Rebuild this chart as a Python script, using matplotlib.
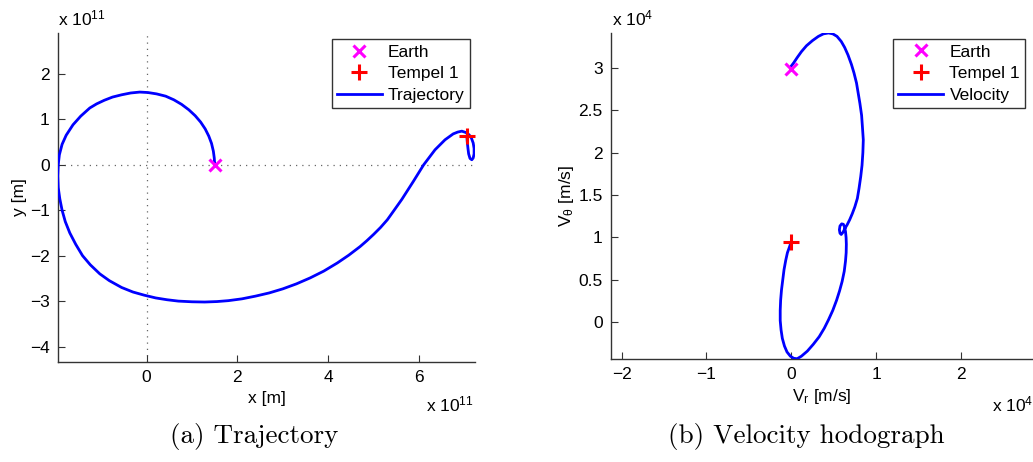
import matplotlib
matplotlib.use("Agg")
import matplotlib.pyplot as plt

# ---------------- data ----------------
# Trajectory, units of 1e11 m
traj_x = [1.50, 1.49, 1.47, 1.43, 1.37, 1.29, 1.19, 1.07, 0.93, 0.77, 0.60, 0.42, 0.22,
          0.03, -0.15, -0.35, -0.55, -0.75, -0.93, -1.10, -1.25, -1.45, -1.62, -1.77,
          -1.86, -1.92, -1.945, -1.955, -1.945, -1.91, -1.86, -1.79, -1.69, -1.56, -1.41,
          -1.24, -1.03, -0.82, -0.55, -0.30, -0.05, 0.20, 0.45, 0.70, 1.00, 1.28, 1.55,
          1.80, 2.10, 2.40, 2.70, 3.00, 3.30, 3.60, 3.90, 4.20, 4.45, 4.70, 4.85, 5.00,
          5.15, 5.30, 5.45, 5.62, 5.87, 6.10, 6.35, 6.57, 6.75, 6.85, 6.94, 7.03, 7.10,
          7.15, 7.19, 7.21, 7.21, 7.19, 7.16, 7.12, 7.09, 7.075, 7.06, 7.05]
traj_y = [0.00, 0.15, 0.30, 0.47, 0.63, 0.79, 0.94, 1.08, 1.21, 1.33, 1.43, 1.51, 1.56,
          1.59, 1.60, 1.58, 1.54, 1.49, 1.42, 1.34, 1.25, 1.07, 0.88, 0.65,
          0.45, 0.22, 0.00, -0.25, -0.50, -0.75, -1.00, -1.25, -1.50, -1.75, -2.00,
          -2.20, -2.40, -2.55, -2.70, -2.80, -2.87, -2.93, -2.97, -3.00, -3.015, -3.02, -3.01,
          -2.99, -2.95, -2.89, -2.82, -2.73, -2.62, -2.49, -2.34, -2.16, -1.99, -1.80, -1.67,
          -1.53, -1.38, -1.21, -1.00, -0.76, -0.37, 0.00, 0.33, 0.55, 0.68, 0.72, 0.74, 0.71,
          0.66, 0.59, 0.48, 0.36, 0.24, 0.15, 0.11, 0.14, 0.24, 0.36, 0.50, 0.63]

# Velocity hodograph, units of 1e4 m/s
vr = [0.00, 0.03, 0.07, 0.12, 0.18, 0.25, 0.32, 0.38, 0.44, 0.49, 0.54, 0.59, 0.63,
      0.67, 0.71, 0.74, 0.77, 0.79, 0.81, 0.83, 0.84, 0.85, 0.845, 0.835, 0.82, 0.80,
      0.78, 0.75, 0.72, 0.69, 0.66, 0.63, 0.61, 0.59, 0.575, 0.568, 0.575, 0.595, 0.615,
      0.63, 0.64, 0.647, 0.65, 0.648, 0.64, 0.625, 0.60, 0.57, 0.535, 0.49, 0.44, 0.39,
      0.33, 0.26, 0.19, 0.12, 0.07, 0.03, -0.01, -0.05, -0.08, -0.105, -0.12, -0.13,
      -0.13, -0.125, -0.115, -0.10, -0.085, -0.065, -0.045, -0.02, 0.00]
vt = [3.02, 3.06, 3.12, 3.19, 3.26, 3.32, 3.37, 3.40, 3.41, 3.40, 3.37, 3.31, 3.24,
      3.15, 3.04, 2.94, 2.82, 2.70, 2.58, 2.44, 2.30, 2.15, 2.00, 1.85, 1.72, 1.58,
      1.46, 1.36, 1.28, 1.21, 1.15, 1.10, 1.06, 1.035, 1.05, 1.09, 1.135, 1.16, 1.155,
      1.12, 1.07, 1.00, 0.92, 0.82, 0.72, 0.60, 0.48, 0.37, 0.26, 0.14, 0.03, -0.07,
      -0.17, -0.26, -0.34, -0.40, -0.43, -0.425, -0.40, -0.35, -0.28, -0.19, -0.09, 0.02,
      0.14, 0.26, 0.38, 0.50, 0.62, 0.73, 0.82, 0.89, 0.95]

earth_pos = (1.50, 0.00)
tempel_pos = (7.05, 0.64)
earth_vel = (0.00, 2.98)
tempel_vel = (0.00, 0.95)

traj_xticks = [0, 2, 4, 6]
traj_yticks = [-4, -3, -2, -1, 0, 1, 2]
vel_xticks = [-2, -1, 0, 1, 2]
vel_yticks = [0, 0.5, 1, 1.5, 2, 2.5, 3]
vel_yticklabels = ["0", "0.5", "1", "1.5", "2", "2.5", "3"]

# ---------------- style ----------------
plt.rcParams['font.family'] = ['Liberation Sans', 'DejaVu Sans']
plt.rcParams['mathtext.fontset'] = 'custom'
plt.rcParams['mathtext.rm'] = 'Liberation Sans'
plt.rcParams['mathtext.it'] = 'Liberation Sans'
FS = 12.5
spine_col = '#333333'

W, H = 1033, 462
fig = plt.figure(figsize=(W / 100, H / 100), dpi=100)


def px_axes(l, t, r, b):
    return fig.add_axes([l / W, 1 - b / H, (r - l) / W, (b - t) / H])


def style(ax):
    for s in ['top', 'right']:
        ax.spines[s].set_visible(False)
    for s in ['left', 'bottom']:
        ax.spines[s].set_color(spine_col)
        ax.spines[s].set_linewidth(1.0)
    ax.tick_params(direction='in', length=5, width=0.8, color=spine_col,
                   labelsize=FS, pad=6)


leg_kw = dict(loc='upper right', fontsize=FS, frameon=True, fancybox=False,
              edgecolor='black', handlelength=2.6, handletextpad=0.35,
              borderpad=0.3, labelspacing=0.38, borderaxespad=0)
order = [1, 2, 0]

# ---------------- (a) trajectory ----------------
ax1 = px_axes(58, 33, 475, 362)
style(ax1)
ax1.axhline(0, color='#666666', ls=(0, (1, 4)), lw=0.9, zorder=1)
ax1.axvline(0, color='#666666', ls=(0, (1, 4)), lw=0.9, zorder=1)
ax1.plot(traj_x, traj_y, color='#0000ff', lw=2.0, label='Trajectory', zorder=3,
         solid_joinstyle='round')
ax1.plot(*earth_pos, 'x', color='#ff00ff', ms=8, mew=2.2, label='Earth', zorder=4)
ax1.plot(*tempel_pos, '+', color='#ff0000', ms=11, mew=2.2, label='Tempel 1', zorder=4)
ax1.set_xlim(-1.95, 7.23)
ax1.set_ylim(-4.34, 2.90)
ax1.set_xticks(traj_xticks)
ax1.set_yticks(traj_yticks)
ax1.set_xlabel('x [m]', fontsize=FS, labelpad=4)
ax1.set_ylabel('y [m]', fontsize=FS, labelpad=2)
h, l = ax1.get_legend_handles_labels()
leg1 = ax1.legend([h[i] for i in order], [l[i] for i in order],
                  bbox_to_anchor=(0.988, 0.981), **leg_kw)
leg1.get_frame().set_linewidth(1.0)
fig.text(58 / W, 1 - 18 / H, r'x 10$^{\mathregular{11}}$', fontsize=FS, ha='left', va='center')
fig.text(474 / W, 1 - 404 / H, r'x 10$^{\mathregular{11}}$', fontsize=FS, ha='right', va='center')

# ---------------- (b) hodograph ----------------
ax2 = px_axes(611, 33, 1032, 359)
style(ax2)
ax2.plot(vr, vt, color='#0000ff', lw=2.0, label='Velocity', zorder=3,
         solid_joinstyle='round')
ax2.plot(*earth_vel, 'x', color='#ff00ff', ms=8, mew=2.2, label='Earth', zorder=4)
ax2.plot(*tempel_vel, '+', color='#ff0000', ms=11, mew=2.2, label='Tempel 1', zorder=4)
ax2.set_xlim(-2.126, 2.84)
ax2.set_ylim(-0.433, 3.41)
ax2.set_xticks(vel_xticks)
ax2.set_yticks(vel_yticks)
ax2.set_yticklabels(vel_yticklabels)
ax2.set_xlabel(r'V$_{\mathregular{r}}$ [m/s]', fontsize=FS, labelpad=3)
ax2.set_ylabel(r'V$_{\mathregular{θ}}$ [m/s]', fontsize=FS, labelpad=2)
h, l = ax2.get_legend_handles_labels()
leg2 = ax2.legend([h[i] for i in order], [l[i] for i in order],
                  bbox_to_anchor=(0.984, 0.981), **leg_kw)
leg2.get_frame().set_linewidth(1.0)
fig.text(612 / W, 1 - 18 / H, r'x 10$^{\mathregular{4}}$', fontsize=FS, ha='left', va='center')
fig.text(1033 / W, 1 - 404 / H, r'x 10$^{\mathregular{4}}$', fontsize=FS, ha='right', va='center')

# ---------------- captions ----------------
fig.text(254 / W, 1 - 436 / H, '(a) Trajectory', fontsize=19.5, family='cmr10',
         ha='center', va='center')
fig.text(806 / W, 1 - 436 / H, '(b) Velocity hodograph', fontsize=19.5, family='cmr10',
         ha='center', va='center')

fig.savefig('out.png', dpi=100)
